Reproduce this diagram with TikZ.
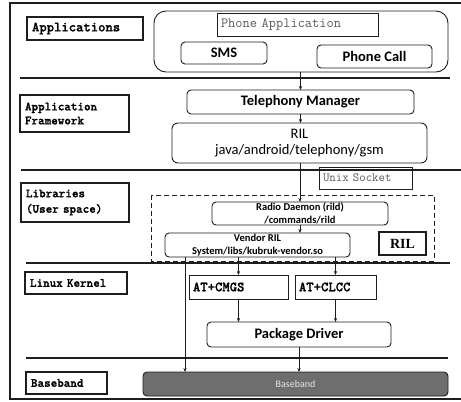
\documentclass[tikz,border=0pt]{standalone}
\usepackage{fontspec}
\setmainfont{Carlito}
\newfontfamily\timesfont{Liberation Serif}
\newfontfamily\labfont{lmmonolt10-bold}[Extension=.otf, FakeBold=1.2]
\usetikzlibrary{arrows.meta}
\definecolor{ink}{HTML}{1E1E1E}
\definecolor{bandgray}{HTML}{6E6E6E}
\definecolor{softtext}{HTML}{5A5A5A}
\definecolor{bandtext}{HTML}{E6E6E6}
\tikzset{
  every node/.style={inner sep=0pt, outer sep=0pt},
  layerlab/.style={draw=ink, line width=1.1pt, anchor=north west, align=left,
    inner xsep=5pt, font=\labfont\fontsize{12.5}{14}\selectfont},
  rbox/.style={draw=ink, line width=0.9pt, rounded corners=4pt, anchor=north west, align=center},
  sbox/.style={draw=ink, line width=0.9pt, anchor=north west},
  sepline/.style={draw=ink, line width=1.2pt},
  arr/.style={draw=ink, line width=0.8pt, -{Stealth[length=4pt,width=3.2pt]}},
  bigtxt/.style={font=\bfseries\fontsize{14.5}{17}\selectfont},
  smalltxt/.style={font=\bfseries\fontsize{10.5}{13}\selectfont},
  attxt/.style={font=\labfont\fontsize{14}{16}\selectfont, align=left, inner xsep=4pt},
}
\begin{document}
\begin{tikzpicture}[x=1pt, y=-1pt]
\useasboundingbox (0,0) rectangle (461,402);
\fill[white] (0,0) rectangle (461,402);

% outer frame (open on the right)
\draw[ink, line width=1.6pt] (475,3) -- (10,3) -- (10,399) -- (475,399);

% layer separators
\draw[sepline] (20,78) -- (450,78);
\draw[sepline] (21,170) -- (465,170);
\draw[sepline] (26,263) -- (450,263);
\draw[sepline] (26,358) -- (448,358);

% layer labels
\node[layerlab, minimum width=116pt, minimum height=23pt, text width=106pt,
  font=\labfont\fontsize{14}{16}\selectfont] (lapp) at (27,17) {Applications};
\node[layerlab, minimum width=109pt, minimum height=37pt, text width=99pt] (lfw) at (20,95)
  {Application\\Framework};
\node[layerlab, minimum width=108pt, minimum height=39pt, text width=98pt,
  font=\labfont\fontsize{12.5}{15.5}\selectfont] (llib) at (21,183)
  {Libraries\\(User space)};
\node[layerlab, minimum width=102pt, minimum height=22pt, text width=92pt] (lker) at (25,272) {Linux Kernel};
\node[layerlab, minimum width=81pt, minimum height=22pt, text width=71pt] (lbb) at (26,372) {Baseband};

% applications layer
\node[draw=ink, line width=0.9pt, rounded corners=12pt, anchor=north west,
  minimum width=294pt, minimum height=61pt] (cont) at (154,11) {};
\node[sbox, minimum width=161pt, minimum height=23pt, text width=153pt, inner xsep=4pt, align=left,
  text=softtext, font=\ttfamily\fontsize{14}{16}\selectfont] (papp) at (217,13) {Phone Application};
\node[rbox, bigtxt, minimum width=86pt, minimum height=22pt] (sms) at (181,42) {SMS};
\node[rbox, bigtxt, minimum width=115pt, minimum height=23pt] (pcall) at (317,45) {Phone Call};

% framework layer
\node[rbox, bigtxt, minimum width=227pt, minimum height=24pt] (tm) at (187,90) {Telephony Manager};
\node[rbox, rounded corners=6pt, minimum width=255pt, minimum height=40pt,
  font=\fontsize{14.5}{16.5}\selectfont] (rilj) at (172,123) {RIL\\java/android/telephony/gsm};

% libraries layer
\node[sbox, minimum width=93pt, minimum height=22pt, text width=85pt, inner xsep=4pt, align=left,
  text=softtext, font=\ttfamily\fontsize{12.5}{14}\selectfont] (sock) at (319,167) {Unix Socket};
\draw[ink, line width=1pt, dashed, dash pattern=on 5pt off 3pt] (151,195) rectangle (434,261);
\node[rbox, smalltxt, minimum width=176pt, minimum height=23pt] (rild) at (212,202)
  {Radio Daemon (rild)\\/commands/rild};
\node[rbox, smalltxt, minimum width=185pt, minimum height=24pt] (vril) at (165,233)
  {Vendor RIL\\System/libs/kubruk-vendor.so};
\node[sbox, line width=1.1pt, minimum width=47pt, minimum height=23pt,
  font=\timesfont\bfseries\fontsize{14}{16}\selectfont] (rillab) at (379,232) {RIL};

% kernel layer
\node[sbox, attxt, minimum width=99pt, minimum height=24pt, text width=91pt] (cmgs) at (189,275) {AT+CMGS};
\node[sbox, attxt, minimum width=81pt, minimum height=24pt, text width=73pt] (clcc) at (295,275) {AT+CLCC};
\node[rbox, bigtxt, minimum width=184pt, minimum height=25pt] (pd) at (207,322) {Package Driver};

% baseband layer
\node[draw=ink, fill=bandgray, line width=0.9pt, rounded corners=4pt, anchor=north west,
  minimum width=305pt, minimum height=24pt, text=bandtext, font=\fontsize{10}{12}\selectfont]
  (bb) at (143,372) {Baseband};

% connectors
\coordinate (dl) at (185,0);
\draw[arr] (cont.south -| tm.north) -- (tm.north);
\draw[arr] (tm.south) -- (tm.south |- rilj.north);
\draw[arr] (rilj.south -| rild.north) -- (rild.north);
\draw[arr] (rild.south) -- (rild.south |- vril.north);
\draw[arr] (vril.south -| dl) -- (bb.north -| dl);
\draw[arr] (vril.south -| cmgs.north) -- (cmgs.north);
\draw[arr] (vril.south -| clcc.north) -- (clcc.north);
\draw[arr] (cmgs.south) -- (cmgs.south |- pd.north);
\draw[arr] (clcc.south) -- (clcc.south |- pd.north);
\draw[arr] (pd.south) -- (pd.south |- bb.north);
\end{tikzpicture}
\end{document}
